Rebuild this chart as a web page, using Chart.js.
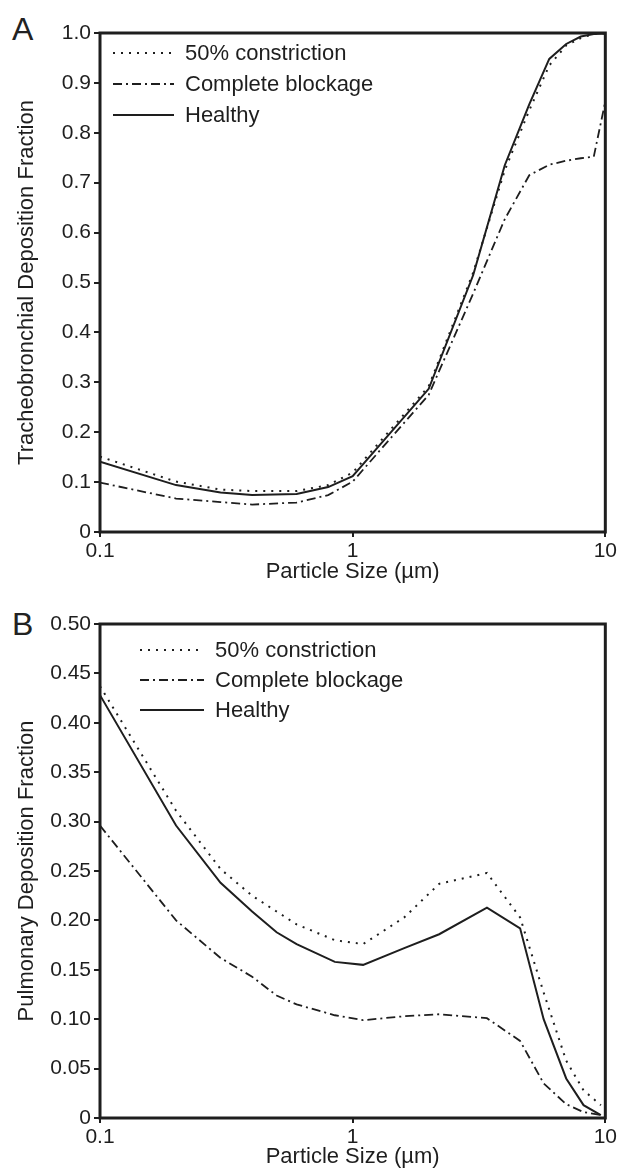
<!DOCTYPE html>
<html>
<head>
<meta charset="utf-8">
<script src="https://cdn.jsdelivr.net/npm/chart.js@4"></script>
<style>
  body { margin: 0; background: #fff; width: 619px; height: 1175px; position: relative; overflow: hidden; }
  canvas { position: absolute; left: 0; }
  .panel { position: absolute; left: 12px; font: 32px "Liberation Sans", Arial, sans-serif; line-height: 1; color: #222; }
</style>
</head>
<body>
<div class="panel" style="top:13px">A</div>
<div class="panel" style="top:608px">B</div>
<canvas id="chartA" width="619" height="590" style="top:0"></canvas>
<canvas id="chartB" width="619" height="585" style="top:590px"></canvas>
<script>
// particle sizes (µm)
const sizesA = [0.1, 0.2, 0.3, 0.4, 0.6, 0.8, 1, 2, 3, 4, 5, 6, 7, 8, 9, 10];
const sizesB = [0.1, 0.2, 0.3, 0.4, 0.5, 0.6, 0.85, 1.1, 1.6, 2.2, 3.4, 4.6, 5.7, 7.0, 8.2, 9.6];

// A - tracheobronchial deposition fraction
const constrictionA = [0.151, 0.101, 0.085, 0.082, 0.082, 0.094, 0.119, 0.292, 0.520, 0.725, 0.845, 0.935, 0.975, 0.990, 0.998, 0.999];
const blockageA     = [0.099, 0.067, 0.060, 0.055, 0.059, 0.074, 0.101, 0.275, 0.478, 0.627, 0.715, 0.736, 0.744, 0.749, 0.752, 0.863];
const healthyA      = [0.141, 0.094, 0.079, 0.074, 0.076, 0.090, 0.112, 0.287, 0.515, 0.735, 0.857, 0.948, 0.978, 0.993, 0.998, 0.999];

// B - pulmonary deposition fraction
const constrictionB = [0.437, 0.311, 0.252, 0.225, 0.209, 0.196, 0.180, 0.176, 0.203, 0.237, 0.248, 0.203, 0.127, 0.058, 0.028, 0.013];
const blockageB     = [0.296, 0.200, 0.162, 0.143, 0.124, 0.115, 0.104, 0.099, 0.103, 0.105, 0.101, 0.078, 0.035, 0.014, 0.006, 0.003];
const healthyB      = [0.428, 0.296, 0.238, 0.209, 0.188, 0.176, 0.158, 0.155, 0.172, 0.186, 0.213, 0.192, 0.100, 0.040, 0.013, 0.003];

const seriesNames = ['50% constriction', 'Complete blockage', 'Healthy'];
const xTicks = [0.1, 1, 10];
const yTicksA = ['0', '0.1', '0.2', '0.3', '0.4', '0.5', '0.6', '0.7', '0.8', '0.9', '1.0'];
const yTicksB = ['0', '0.05', '0.10', '0.15', '0.20', '0.25', '0.30', '0.35', '0.40', '0.45', '0.50'];

const INK = '#1e1e1e';
const FONT = '"Liberation Sans", Arial, sans-serif';

// legend with line samples + heavy frame round the plot
const frameLegend = {
    id: 'frameLegend',
    afterDraw(chart, args, opts) {
        const { ctx, chartArea: ca } = chart;
        ctx.save();
        chart.data.datasets.forEach((ds, i) => {
            const y = ca.top + opts.top + i * opts.gap;
            ctx.strokeStyle = ds.borderColor;
            ctx.lineWidth = ds.borderWidth;
            ctx.setLineDash(ds.borderDash || []);
            ctx.beginPath();
            ctx.moveTo(ca.left + opts.x0, y);
            ctx.lineTo(ca.left + opts.x1, y);
            ctx.stroke();
            ctx.setLineDash([]);
            ctx.fillStyle = INK;
            ctx.font = '22px ' + FONT;
            ctx.textBaseline = 'middle';
            ctx.fillText(ds.label, ca.left + opts.x1 + 11, y + 1);
        });
        ctx.lineWidth = 3;
        ctx.strokeStyle = INK;
        ctx.strokeRect(ca.left, ca.top, ca.width, ca.height);
        ctx.restore();
    }
};

function pts(xs, ys) {
    return xs.map((x, i) => ({ x: x, y: ys[i] }));
}

function makePanel(id, xs, series, yMax, yStep, yLabels, yTitle, pad, xH, legendPos) {
    const styles = [
        { borderDash: [2, 6], borderWidth: 2 },
        { borderDash: [9, 4, 2, 4], borderWidth: 1.8 },
        { borderDash: [], borderWidth: 2 }
    ];
    return new Chart(document.getElementById(id), {
        type: 'line',
        data: {
            datasets: series.map((ys, i) => ({
                label: seriesNames[i],
                data: pts(xs, ys),
                borderColor: INK,
                borderWidth: styles[i].borderWidth,
                borderDash: styles[i].borderDash,
                pointRadius: 0,
                tension: 0,
                fill: false
            }))
        },
        options: {
            responsive: false,
            animation: false,
            devicePixelRatio: 1,
            layout: { padding: pad },
            plugins: { legend: { display: false }, tooltip: { enabled: false }, frameLegend: legendPos },
            scales: {
                x: {
                    type: 'logarithmic',
                    min: 0.1, max: 10,
                    afterBuildTicks: (s) => { s.ticks = xTicks.map(v => ({ value: v })); },
                    afterFit: (s) => { s.height = xH; },
                    grid: { display: true, drawOnChartArea: false, drawTicks: true, tickLength: 5, color: INK, lineWidth: 2 },
                    border: { display: false },
                    ticks: { autoSkip: false, maxRotation: 0, padding: 2, color: INK, font: { family: FONT, size: 21 },
                        callback: (v) => String(v) },
                    title: { display: true, text: 'Particle Size (µm)', color: INK, font: { family: FONT, size: 22 },
                        padding: { top: 0, bottom: 5 } }
                },
                y: {
                    min: 0, max: yMax,
                    afterBuildTicks: (s) => { s.ticks = yLabels.map((l, i) => ({ value: i * yStep })); },
                    afterFit: (s) => { s.width = 100; },
                    grid: { display: true, drawOnChartArea: false, drawTicks: true, tickLength: 6, color: INK, lineWidth: 2 },
                    border: { display: false },
                    ticks: { autoSkip: false, padding: 3, color: INK, font: { family: FONT, size: 21 },
                        callback: (v, i) => yLabels[i] },
                    title: { display: true, text: yTitle, color: INK, font: { family: FONT, size: 22 },
                        padding: { top: 14, bottom: 0 } }
                }
            }
        },
        plugins: [frameLegend]
    });
}

makePanel('chartA', sizesA, [constrictionA, blockageA, healthyA], 1, 0.1, yTicksA,
    'Tracheobronchial Deposition Fraction', { top: 33, right: 13, left: 0, bottom: 0 }, 58,
    { top: 20, gap: 31, x0: 13, x1: 74 });

makePanel('chartB', sizesB, [constrictionB, blockageB, healthyB], 0.5, 0.05, yTicksB,
    'Pulmonary Deposition Fraction', { top: 34, right: 13, left: 0, bottom: 0 }, 57,
    { top: 26, gap: 30, x0: 40, x1: 104 });
</script>
</body>
</html>
